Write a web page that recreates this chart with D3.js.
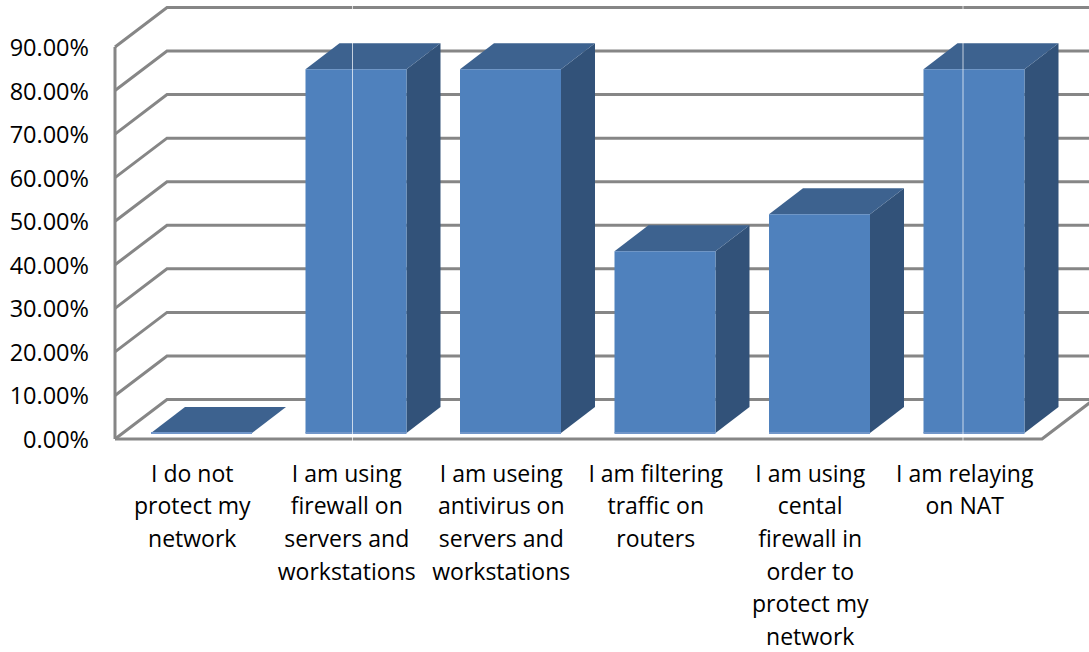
<!DOCTYPE html>
<html><head><meta charset="utf-8">
<script src="https://cdnjs.cloudflare.com/ajax/libs/d3/7.8.5/d3.min.js"></script>
<style>html,body{margin:0;padding:0;background:#fff}svg{display:block}text{font-family:"Open Sans",Lato,sans-serif;fill:#000}</style>
</head><body><svg id="c" width="1089" height="652"></svg>
<script>
const categories = [
  ["I do not","protect my","network"],
  ["I am using","firewall on","servers and","workstations"],
  ["I am useing","antivirus on","servers and","workstations"],
  ["I am filtering","traffic on","routers"],
  ["I am using","cental","firewall in","order to","protect my","network"],
  ["I am relaying","on NAT"]
];
const values = [0, 83.5, 83.5, 41.7, 50.2, 83.5];
const tickValues = [0,10,20,30,40,50,60,70,80,90];

const svg = d3.select("#c");
const x = d3.scaleBand().domain(d3.range(categories.length)).range([115,1042]);
const y = d3.scaleLinear().domain([0,90]).range([439,47]);

const wallDx = 52, wallDy = -39.5;
const barInset = 36, barW = 101, barDx = 34, barDy = -26, barBase = -6;
const grid = "#868686";

const walls = svg.append("g").attr("fill","none").attr("stroke",grid).attr("stroke-width",3);
tickValues.forEach(t=>{
  walls.append("path").attr("d",d3.line()([
    [x.range()[0], y(t)],
    [x.range()[0]+wallDx, y(t)+wallDy],
    [x.range()[1]+wallDx, y(t)+wallDy]
  ]));
});
walls.append("path").attr("d",d3.line()([[x.range()[0],y(90)],[x.range()[0],y(0)]]));
walls.append("path").attr("stroke-width",3.2).attr("d",d3.line()([
  [x.range()[0],y(0)],[x.range()[1],y(0)],[x.range()[1]+wallDx,y(0)+wallDy]
]));

const bars = svg.append("g").selectAll("g").data(values).join("g");
bars.each(function(v,i){
  const g = d3.select(this);
  const l = x(i)+barInset, r = l+barW, b = y(0)+barBase, t = y(v)+barBase;
  const poly = p => d3.line()(p)+"Z";
  g.append("path").attr("fill","#325279").attr("d",poly([[r,b],[r+barDx,b+barDy],[r+barDx,t+barDy],[r,t]]));
  g.append("path").attr("fill","#3d628f").attr("d",poly([[l,t],[l+barDx,t+barDy],[r+barDx,t+barDy],[r,t]]));
  g.append("path").attr("fill","#4f81bd").attr("d",poly([[l,t],[r,t],[r,b],[l,b]]));
  g.append("path").attr("fill","#7196c9").attr("d",poly([[l,b-1],[r,b-1],[r,b+1],[l,b+1]]));
});

// pale vertical seams in the picture, placed within the second and last bands
const seams = [[1,83],[5,75.5]];
svg.append("g").attr("stroke","#fff").attr("stroke-opacity",.7).selectAll("line")
  .data(seams).join("line")
  .attr("x1",d=>x(d[0])+d[1]).attr("x2",d=>x(d[0])+d[1])
  .attr("y1",0).attr("y2",652).attr("stroke-width",1);

svg.append("g").attr("font-size",23.5).attr("text-anchor","end").selectAll("text")
  .data(tickValues).join("text")
  .attr("x",89).attr("y",t=>y(t)+9).text(t=>t.toFixed(2)+"%");

const lab = svg.append("g").attr("font-size",23).attr("text-anchor","middle");
categories.forEach((lines,i)=>{
  lines.forEach((s,k)=>{
    lab.append("text").attr("x",x(i)+x.bandwidth()/2).attr("y",481.5+k*32.7).text(s);
  });
});
</script></body></html>
